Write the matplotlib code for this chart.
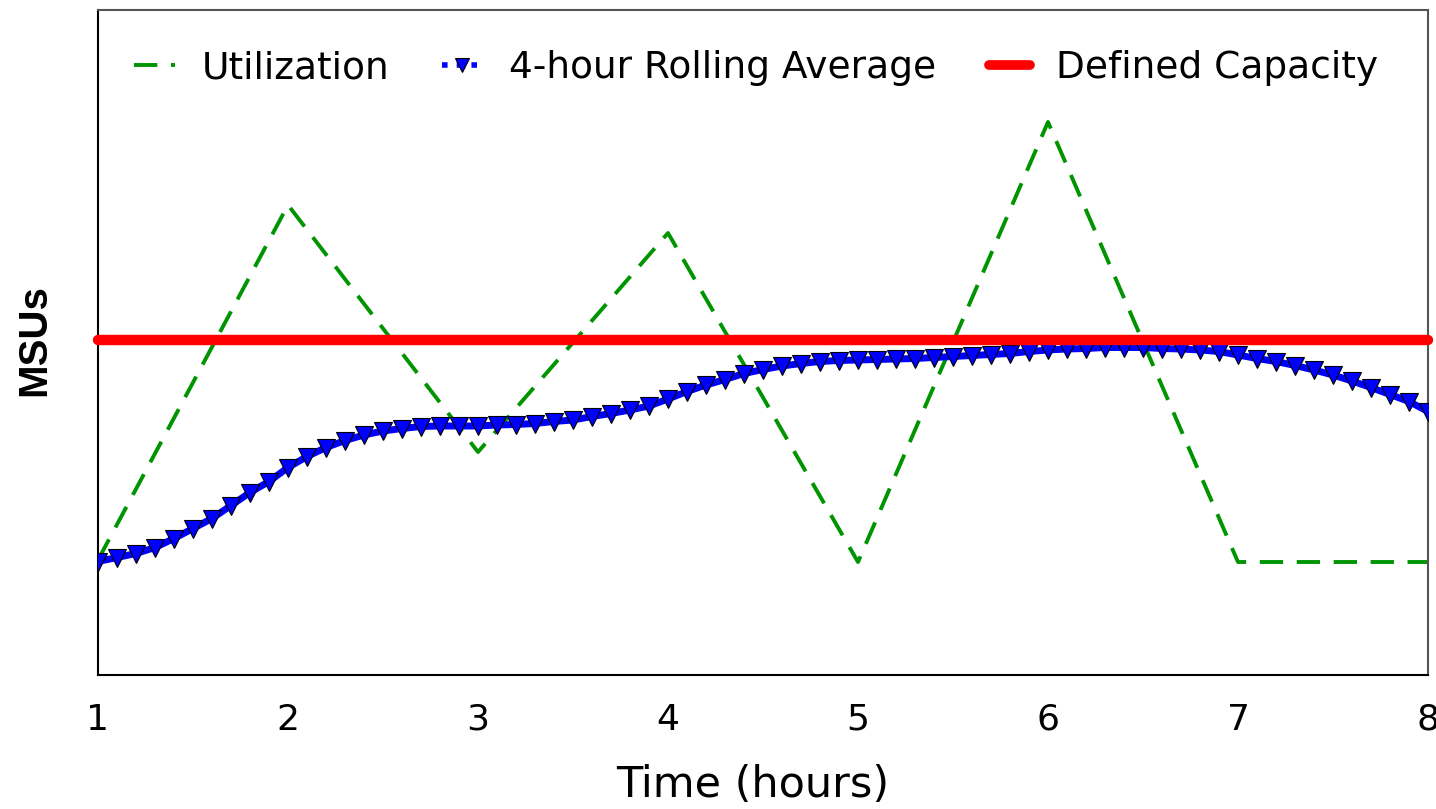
import numpy as np
import matplotlib
matplotlib.use("Agg")
import matplotlib.pyplot as plt

# hours on the x axis
hours = [1, 2, 3, 4, 5, 6, 7, 8]
utilization = [23.0, 94.0, 44.6, 88.4, 22.6, 110.6, 22.6, 22.6]

# 4-hour rolling average, sampled every 0.1 h from 1.0 to 8.0
roll_t = [round(1 + i / 10, 1) for i in range(71)]
roll_avg = [22.7, 23.5, 24.3, 25.5, 27.3, 29.3, 31.3, 33.9, 36.5, 38.7,
            41.5, 43.7, 45.5, 46.9, 48.0, 48.8, 49.3, 49.7, 49.8, 49.8,
            49.8, 50.0, 50.1, 50.3, 50.7, 51.0, 51.7, 52.3, 53.0, 53.8,
            55.2, 56.7, 58.0, 59.1, 60.3, 61.1, 61.8, 62.3, 62.7, 62.9,
            63.0, 63.1, 63.2, 63.3, 63.5, 63.7, 63.9, 64.1, 64.3, 64.7,
            65.0, 65.2, 65.3, 65.5, 65.5, 65.5, 65.3, 65.2, 65.0, 64.7,
            64.0, 63.3, 62.7, 61.9, 61.0, 60.0, 58.8, 57.5, 56.1, 54.7,
            52.7]
capacity = 67.0

fig = plt.figure(figsize=(14.36, 8.09), dpi=100)
ax = fig.add_axes([98 / 1436, 1 - 675 / 809, 1330 / 1436, 665 / 809])

ax.plot(hours, utilization, color="#009400", lw=2.8, dashes=(6, 3.5),
        label="Utilization", zorder=2)
ax.plot(roll_t, roll_avg, color="#0000ff", lw=5, marker="v", ms=13,
        mfc="#0000ff", mec="black", mew=0.8, label="4-hour Rolling Average",
        zorder=3)
ax.axhline(capacity, color="#ff0000", lw=7.5, solid_capstyle="round",
           label="Defined Capacity", clip_on=False, zorder=4)

ax.set_xlim(1, 8)
ax.set_ylim(0, 133)
ax.set_xticks(hours)
ax.set_yticks([])
ax.tick_params(axis="x", length=0, pad=20, labelsize=26)
for s in ["left", "bottom"]:
    ax.spines[s].set_linewidth(1.5)
for s in ["top", "right"]:
    ax.spines[s].set_color("#555555")
    ax.spines[s].set_linewidth(1.5)

ax.set_xlabel("Time (hours)", fontsize=31, va="bottom")
ax.xaxis.set_label_coords(0.492, -0.197)
ax.set_ylabel("MSUs", fontsize=29, fontweight="bold",
              family="Liberation Sans", va="center")
ax.yaxis.set_label_coords(-0.048, 0.504)

leg = ax.legend(loc="upper center", ncol=3, frameon=False, fontsize=27,
                bbox_to_anchor=(0.495, 0.99), handlelength=1.1,
                columnspacing=1.4, handletextpad=0.7, markerscale=0.8)
hl = leg.legend_handles
hl[1].set_linestyle(":")
hl[1].set_linewidth(4)
hl[2].set_linewidth(7)

fig.savefig("out.png", dpi=100)
